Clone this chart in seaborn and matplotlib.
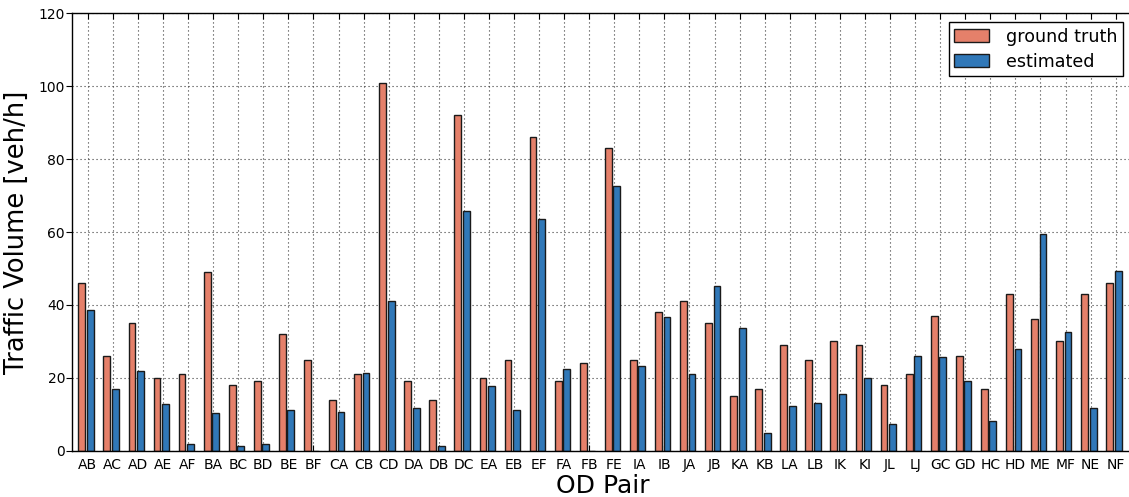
import numpy as np
import pandas as pd
import matplotlib
matplotlib.use("Agg")
import matplotlib.pyplot as plt
import seaborn as sns

# OD pairs and traffic volumes [veh/h]
od_pairs = ["AB", "AC", "AD", "AE", "AF", "BA", "BC", "BD", "BE", "BF",
            "CA", "CB", "CD", "DA", "DB", "DC", "EA", "EB", "EF", "FA",
            "FB", "FE", "IA", "IB", "JA", "JB", "KA", "KB", "LA", "LB",
            "IK", "KI", "JL", "LJ", "GC", "GD", "HC", "HD", "ME", "MF",
            "NE", "NF"]
ground_truth = [46, 26, 35, 20, 21, 49, 18, 19, 32, 25,
                14, 21, 101, 19, 14, 92, 20, 25, 86, 19,
                24, 83, 25, 38, 41, 35, 15, 17, 29, 25,
                30, 29, 18, 21, 37, 26, 17, 43, 36, 30,
                43, 46]
estimated = [38.6, 17.0, 21.8, 12.7, 1.8, 10.3, 1.3, 1.8, 11.1, 0.0,
             10.7, 21.2, 41.0, 11.6, 1.4, 65.8, 17.7, 11.2, 63.5, 22.5,
             0.0, 72.5, 23.2, 36.7, 21.0, 45.2, 33.7, 4.8, 12.2, 13.2,
             15.6, 19.9, 7.4, 26.0, 25.7, 19.0, 8.2, 27.8, 59.4, 32.5,
             11.8, 49.3]
series_names = ["ground truth", "estimated"]
series_colors = ["#E5806A", "#3078B8"]

df = pd.DataFrame({
    "od": od_pairs * 2,
    "volume": ground_truth + estimated,
    "series": [series_names[0]] * len(od_pairs) + [series_names[1]] * len(od_pairs),
})

plt.rcParams["font.family"] = ["DejaVu Sans"]

fig = plt.figure(figsize=(11.29, 4.97), dpi=100)
ax = fig.add_axes([72 / 1129, 1 - 450.7 / 497, 1062 / 1129, 437.4 / 497])

sns.barplot(data=df, x="od", y="volume", hue="series", order=od_pairs,
            hue_order=series_names, palette=series_colors, width=0.68,
            gap=0.2, edgecolor="#1a1a1a", linewidth=1.0, saturation=1,
            ax=ax)

ax.set_xlim(-0.56, 41.8)
ax.set_ylim(0, 120)
ax.set_yticks(np.arange(0, 121, 20))
ax.set_xticks(np.arange(len(od_pairs)) + 0.07)
ax.set_xticklabels(od_pairs)

# sparse dotted grid like the old classic style
ax.grid(True, which="major", linestyle=(0, (1, 2.6)), color="#3a3a3a",
        linewidth=0.8)
ax.set_axisbelow(True)

ax.tick_params(axis="x", direction="in", length=4, top=True, bottom=True,
               labelsize=10, pad=5)
ax.tick_params(axis="y", direction="out", length=4, left=True, right=False,
               labelsize=10, pad=1)
for spine in ax.spines.values():
    spine.set_linewidth(1.0)
    spine.set_color("black")

ax.set_xlabel("OD Pair", fontsize=18, labelpad=2)
ax.set_ylabel("Traffic Volume [veh/h]", fontsize=18.5, labelpad=6)

handles, labels = ax.get_legend_handles_labels()
leg = ax.legend(handles, labels, loc="upper right",
                bbox_to_anchor=(1123 / 1129, 1 - 22.3 / 497),
                bbox_transform=fig.transFigure, borderaxespad=0,
                fontsize=12.6, fancybox=False, framealpha=1,
                edgecolor="black", handlelength=2.0, handletextpad=1.0,
                borderpad=0.3, labelspacing=0.4)
leg.get_frame().set_linewidth(1.0)

fig.savefig("out.png", dpi=100)
plt.close(fig)
